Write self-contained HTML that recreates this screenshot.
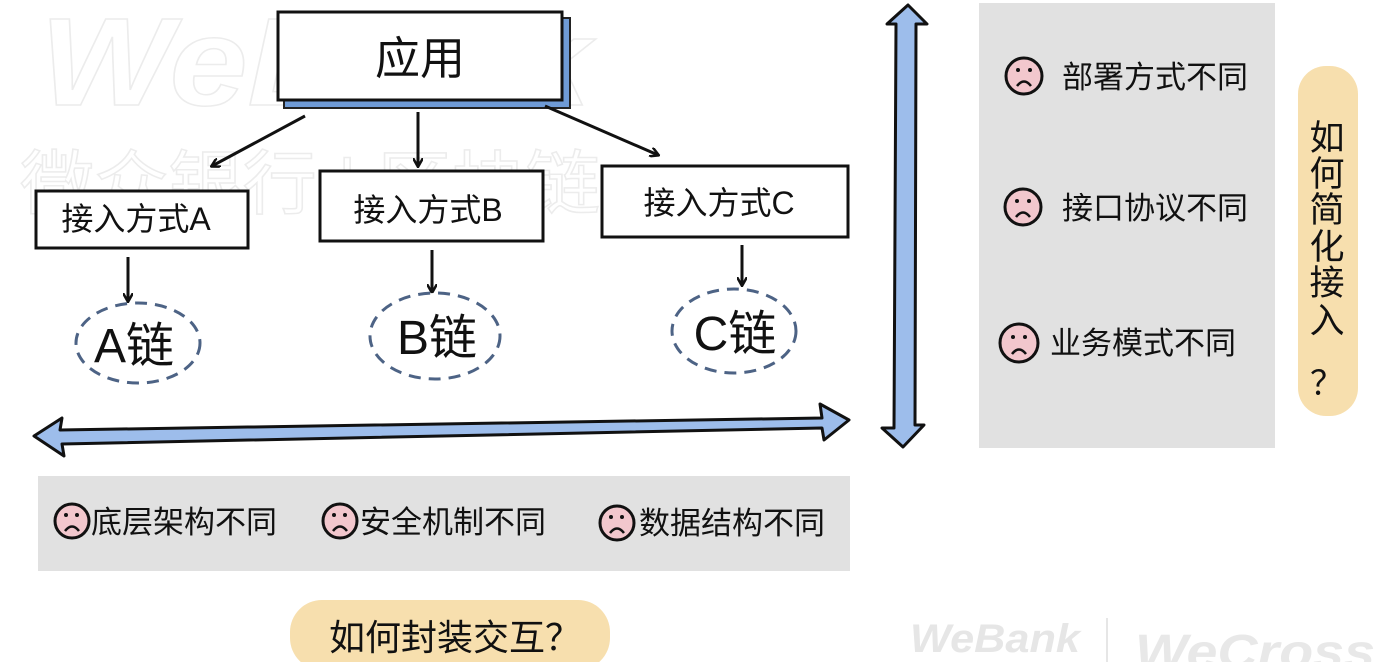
<!DOCTYPE html>
<html><head><meta charset="utf-8">
<style>
html,body{margin:0;padding:0;background:#fff;}
svg{display:block;}
text{font-family:"Liberation Sans","Noto Sans CJK SC",sans-serif;}
</style></head>
<body>
<svg width="1384" height="662" viewBox="0 0 1384 662" xmlns="http://www.w3.org/2000/svg">
<defs>
<marker id="ah" markerWidth="10" markerHeight="10" refX="8" refY="5" orient="auto" markerUnits="userSpaceOnUse">
<path d="M0,0 L9,5 L0,10" fill="none" stroke="#111" stroke-width="2.5"/>
</marker>
</defs>
<!-- watermarks -->
<text x="40" y="105" font-size="125" font-style="italic" font-weight="bold" fill="none" stroke="#ececec" stroke-width="1.5" textLength="550" lengthAdjust="spacingAndGlyphs">WeBank</text>
<text x="20" y="208" font-size="70" fill="none" stroke="#ececec" stroke-width="1.5" textLength="580" lengthAdjust="spacingAndGlyphs">微众银行 | 区块链</text>
<text x="910" y="652" font-size="40" font-style="italic" font-weight="bold" fill="#e6e6e6" textLength="170" lengthAdjust="spacingAndGlyphs">WeBank</text>
<rect x="1106" y="618" width="2" height="44" fill="#e6e6e6"/>
<text x="1135" y="668" font-size="48" font-style="italic" font-weight="bold" fill="#e8e8e8" textLength="240" lengthAdjust="spacingAndGlyphs">WeCross</text>

<!-- app box -->
<rect x="284" y="18" width="286" height="90" fill="#6f9bd6" stroke="#222" stroke-width="2"/>
<rect x="278" y="12" width="284" height="88" fill="#fff" stroke="#111" stroke-width="3"/>
<text x="420" y="74" font-size="45" text-anchor="middle" fill="#111">应用</text>

<!-- arrows from app -->
<path d="M305,116 L212,166" stroke="#111" stroke-width="3" fill="none" marker-end="url(#ah)"/>
<path d="M418,112 L418,166" stroke="#111" stroke-width="3" fill="none" marker-end="url(#ah)"/>
<path d="M545,106 L658,155" stroke="#111" stroke-width="3" fill="none" marker-end="url(#ah)"/>

<!-- boxes -->
<rect x="36" y="191" width="212" height="57" fill="#fff" stroke="#111" stroke-width="3"/>
<text x="136" y="230" font-size="32" text-anchor="middle" fill="#111">接入方式A</text>
<rect x="320" y="171" width="223" height="70" fill="#fff" stroke="#111" stroke-width="3"/>
<text x="428" y="221" font-size="32" text-anchor="middle" fill="#111">接入方式B</text>
<rect x="602" y="166" width="246" height="71" fill="#fff" stroke="#111" stroke-width="3"/>
<text x="719" y="214" font-size="32" text-anchor="middle" fill="#111">接入方式C</text>

<!-- down arrows -->
<path d="M128,257 L128,301" stroke="#111" stroke-width="3" marker-end="url(#ah)"/>
<path d="M432,250 L432,292" stroke="#111" stroke-width="3" marker-end="url(#ah)"/>
<path d="M742,245 L742,285" stroke="#111" stroke-width="3" marker-end="url(#ah)"/>

<!-- chains -->
<ellipse cx="138" cy="343" rx="62" ry="40" fill="#fff" stroke="#4d6385" stroke-width="3" stroke-dasharray="12,8"/>
<text x="134" y="362" font-size="48" text-anchor="middle" fill="#111">A链</text>
<ellipse cx="435" cy="336" rx="65" ry="43" fill="#fff" stroke="#4d6385" stroke-width="3" stroke-dasharray="12,8"/>
<text x="437" y="354" font-size="48" text-anchor="middle" fill="#111">B链</text>
<ellipse cx="734" cy="331" rx="62" ry="42" fill="#fff" stroke="#4d6385" stroke-width="3" stroke-dasharray="12,8"/>
<text x="735" y="350" font-size="48" text-anchor="middle" fill="#111">C链</text>

<!-- horizontal double arrow -->
<path d="M34,436 L62,418 L60,430 L822,418 L820,404 L849,420 L824,440 L822,428 L62,444 L64,456 Z" fill="#9dbdeb" stroke="#111" stroke-width="3" stroke-linejoin="round"/>

<!-- vertical double arrow -->
<path d="M908,5 L927,24 L916,24 L915,425 L924,425 L903,447 L882,428 L894,428 L896,24 L887,24 Z" fill="#9dbdeb" stroke="#111" stroke-width="3" stroke-linejoin="round"/>

<!-- bottom gray -->
<rect x="38" y="476" width="812" height="95" fill="#e1e1e1"/>
<g stroke="#111" stroke-width="3">
<circle cx="72" cy="521" r="17" fill="#f2c7cd"/>
<circle cx="340" cy="521" r="17" fill="#f2c7cd"/>
<circle cx="617" cy="523" r="17" fill="#f2c7cd"/>
</g>
<g fill="none" stroke="#111" stroke-width="2.5">
<path d="M65,531 Q72,522 79,531"/><path d="M333,531 Q340,522 347,531"/><path d="M610,533 Q617,524 624,533"/>
</g>
<g fill="#111"><circle cx="66" cy="515" r="2"/><circle cx="77" cy="515" r="2"/><circle cx="334" cy="515" r="2"/><circle cx="345" cy="515" r="2"/><circle cx="611" cy="517" r="2"/><circle cx="622" cy="517" r="2"/></g>
<text x="91" y="533" font-size="31" fill="#111">底层架构不同</text>
<text x="360" y="533" font-size="31" fill="#111">安全机制不同</text>
<text x="639" y="534" font-size="31" fill="#111">数据结构不同</text>

<!-- bottom yellow -->
<rect x="290" y="600" width="320" height="70" rx="32" fill="#f7dfae"/>
<text x="455" y="650" font-size="36" text-anchor="middle" fill="#111">如何封装交互？</text>

<!-- right gray -->
<rect x="979" y="3" width="296" height="445" fill="#e1e1e1"/>
<g stroke="#111" stroke-width="3">
<circle cx="1024" cy="76" r="18" fill="#f2c7cd"/>
<circle cx="1023" cy="207" r="18" fill="#f2c7cd"/>
<circle cx="1019" cy="343" r="19" fill="#f2c7cd"/>
</g>
<g fill="none" stroke="#111" stroke-width="2.5">
<path d="M1017,86 Q1024,77 1031,86"/><path d="M1016,217 Q1023,208 1030,217"/><path d="M1012,354 Q1019,345 1026,354"/>
</g>
<g fill="#111"><circle cx="1018" cy="70" r="2"/><circle cx="1030" cy="70" r="2"/><circle cx="1017" cy="201" r="2"/><circle cx="1029" cy="201" r="2"/><circle cx="1013" cy="337" r="2"/><circle cx="1025" cy="337" r="2"/></g>
<text x="1062" y="88" font-size="31" fill="#111">部署方式不同</text>
<text x="1062" y="219" font-size="31" fill="#111">接口协议不同</text>
<text x="1050" y="354" font-size="31" fill="#111">业务模式不同</text>

<!-- right yellow vertical -->
<rect x="1298" y="66" width="60" height="350" rx="28" fill="#f7dfae"/>
<g font-size="35" text-anchor="middle" fill="#111">
<text x="1327" y="150">如</text>
<text x="1327" y="186">何</text>
<text x="1327" y="222">简</text>
<text x="1327" y="259">化</text>
<text x="1327" y="295">接</text>
<text x="1327" y="333">入</text>
<text x="1327" y="395" font-size="34">？</text>
</g>
</svg>
</body></html>
